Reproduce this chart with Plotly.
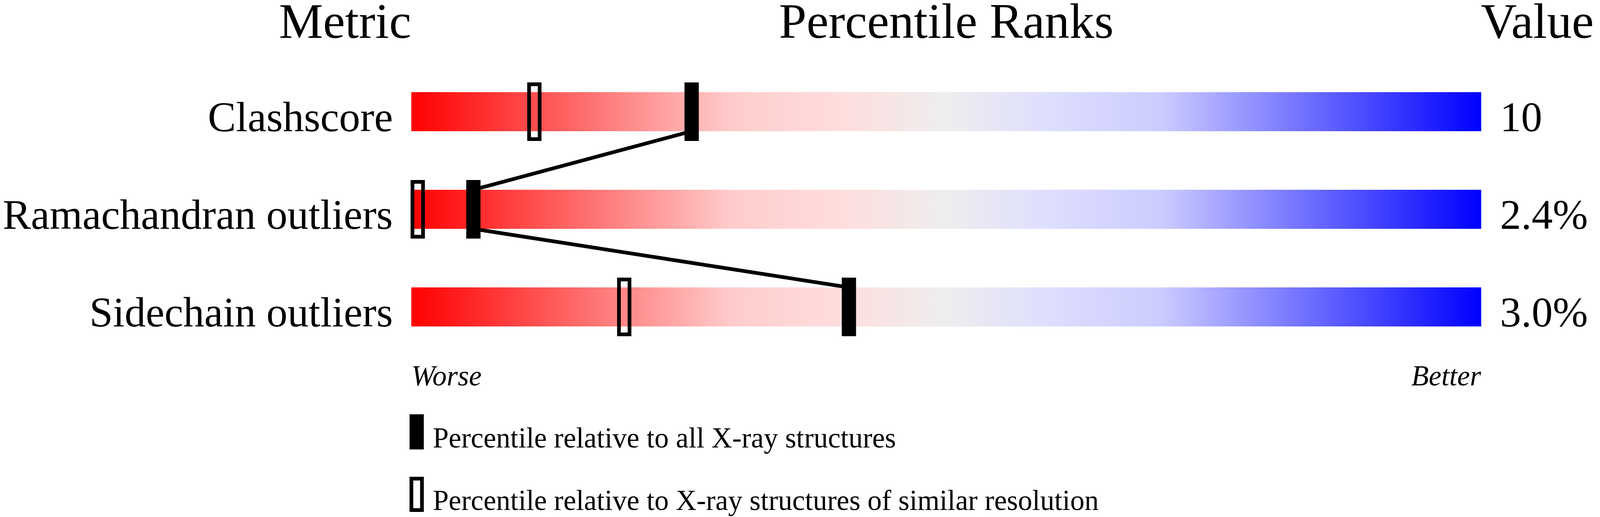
import plotly.graph_objects as go

METRICS = ["Clashscore", "Ramachandran outliers", "Sidechain outliers"]
VALUES = ["10", "2.4%", "3.0%"]
# percentile vs all X-ray structures (filled marker)
PCT_ALL = [26.2, 5.8, 40.9]
# percentile vs structures of similar resolution (hollow marker)
PCT_RES = [11.5, 0.6, 19.9]

GRADIENT = [
    [0.0, "#ff0000"],
    [0.3, "#ffcccc"],
    [0.4, "#ffdddd"],
    [0.5, "#eeeeee"],
    [0.6, "#ddddff"],
    [0.7, "#ccccff"],
    [1.0, "#0000ff"],
]

# the page viewport is narrower than the reference, so layout is squeezed in x
VIEW_W, VIEW_H = 4096, 1324
SX = VIEW_W / 4485
OFF = 8                                 # body margin
FIG_W, FIG_H = VIEW_W - OFF, VIEW_H - OFF
FONT = "Liberation Serif"


def fx(x):
    # reference pixel x -> figure pixel x
    return x * SX - OFF


def fy(y):
    return y - OFF


def px(x):
    return fx(x) / FIG_W


def py(y):
    return 1 - fy(y) / FIG_H


def mid(baseline, size):
    # annotation middle for a given text baseline (reference pixels)
    return baseline - 0.3375 * size


BAR_L, BAR_R = fx(1153), fx(4152)
PPU = (BAR_R - BAR_L) / 100
ROW0, ROW_STEP = fy(286), 250

fig = go.Figure()

# gradient bars
for i, name in enumerate(METRICS):
    fig.add_trace(go.Scatter(
        x=[0, 100, 100, 0, 0],
        y=[i - 0.2, i - 0.2, i + 0.2, i + 0.2, i - 0.2],
        mode="lines", fill="toself",
        line=dict(width=0, color="rgba(0,0,0,0)"),
        fillgradient=dict(type="horizontal", colorscale=GRADIENT),
        hoverinfo="skip", showlegend=False,
    ))

# connecting line between the filled markers
lx, ly = [], []
for i, p in enumerate(PCT_ALL):
    if i > 0:
        lx.append(p)
        ly.append(i - 0.2)
    if i < len(PCT_ALL) - 1:
        lx.append(p)
        ly.append(i + 0.2)
fig.add_trace(go.Scatter(
    x=lx, y=ly, mode="lines", line=dict(color="black", width=9.5),
    hoverinfo="skip", showlegend=False,
))

STROKE = 9.5
hw = 20 * SX / PPU
hw_open = (40 * SX - STROKE) / 2 / PPU
hh_open = (150 - STROKE) / 2 / ROW_STEP
LAB = 108
for i in range(len(METRICS)):
    fig.add_shape(type="rect", x0=PCT_ALL[i] - hw, x1=PCT_ALL[i] + hw,
                  y0=i - 0.3, y1=i + 0.3, fillcolor="black", line_width=0)
    fig.add_shape(type="rect", x0=PCT_RES[i] - hw_open, x1=PCT_RES[i] + hw_open,
                  y0=i - hh_open, y1=i + hh_open,
                  line=dict(color="black", width=STROKE))

    ym = py(mid(336 + i * 250, LAB))
    fig.add_annotation(x=px(1101), y=ym, xref="paper", yref="paper",
                       text=METRICS[i], xanchor="right", yanchor="middle",
                       showarrow=False, borderpad=0, borderwidth=0,
                       font=dict(family=FONT, size=LAB, color="black"))
    fig.add_annotation(x=px(4205), y=ym, xref="paper", yref="paper",
                       text=VALUES[i], xanchor="left", yanchor="middle",
                       showarrow=False, borderpad=0, borderwidth=0,
                       font=dict(family=FONT, size=LAB, color="black"))

# headers
HDR = 127
hdr = dict(family=FONT, size=HDR, color="black")
yh = py(mid(97, HDR))
fig.add_annotation(x=px(1153), y=yh, xref="paper", yref="paper", text="Metric",
                   xanchor="right", yanchor="middle", showarrow=False,
                   borderpad=0, borderwidth=0, font=hdr)
fig.add_annotation(x=px((1153 + 4152) / 2), y=yh, xref="paper", yref="paper",
                   text="Percentile Ranks", xanchor="center", yanchor="middle",
                   showarrow=False, borderpad=0, borderwidth=0, font=hdr)
fig.add_annotation(x=px(4151), y=yh, xref="paper", yref="paper", text="Value",
                   xanchor="left", yanchor="middle", showarrow=False,
                   borderpad=0, borderwidth=0, font=hdr)

# worse / better
SMALL = 73
it = dict(family=FONT, size=SMALL, color="black", style="italic")
yw = py(mid(987, SMALL))
fig.add_annotation(x=px(1153), y=yw, xref="paper", yref="paper", text="Worse",
                   xanchor="left", yanchor="middle", showarrow=False,
                   borderpad=0, borderwidth=0, font=it)
fig.add_annotation(x=px(4152), y=yw, xref="paper", yref="paper", text="Better",
                   xanchor="right", yanchor="middle", showarrow=False,
                   borderpad=0, borderwidth=0, font=it)

# legend
fig.add_shape(type="rect", xref="paper", yref="paper", x0=px(1148), x1=px(1188),
              y0=py(1151), y1=py(1061), fillcolor="black", line_width=0)
h = STROKE / 2
fig.add_shape(type="rect", xref="paper", yref="paper",
              x0=(fx(1148) + h) / FIG_W, x1=(fx(1188) - h) / FIG_W,
              y0=1 - (fy(1311) - h) / FIG_H, y1=1 - (fy(1221) + h) / FIG_H,
              line=dict(color="black", width=STROKE))
lg = dict(family=FONT, size=SMALL, color="black")
fig.add_annotation(x=px(1213), y=py(mid(1146, SMALL)), xref="paper", yref="paper",
                   text="Percentile relative to all X-ray structures",
                   xanchor="left", yanchor="middle", showarrow=False,
                   borderpad=0, borderwidth=0, font=lg)
fig.add_annotation(x=px(1213), y=py(mid(1306, SMALL)), xref="paper", yref="paper",
                   text="Percentile relative to X-ray structures of similar resolution",
                   xanchor="left", yanchor="middle", showarrow=False,
                   borderpad=0, borderwidth=0, font=lg)

fig.update_xaxes(range=[-BAR_L / PPU, (FIG_W - BAR_L) / PPU], visible=False,
                 fixedrange=True)
fig.update_yaxes(range=[(FIG_H - ROW0) / ROW_STEP, -ROW0 / ROW_STEP], visible=False,
                 fixedrange=True)
fig.update_layout(
    width=FIG_W, height=FIG_H, margin=dict(l=0, r=0, t=0, b=0),
    paper_bgcolor="white", plot_bgcolor="white", showlegend=False,
)

fig.write_html("out.html")
